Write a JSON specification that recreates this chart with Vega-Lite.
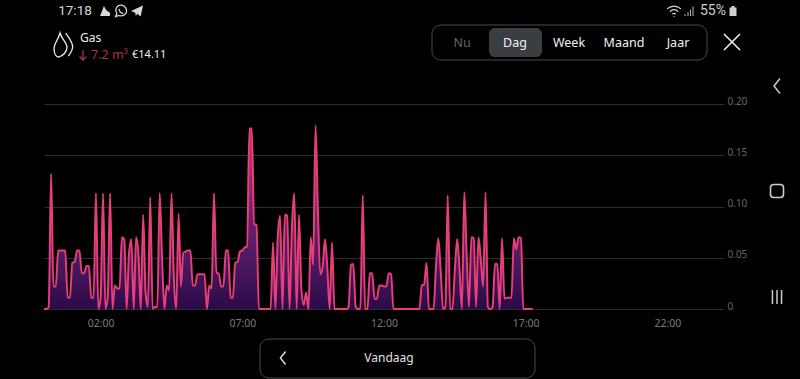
{"$schema":"https://vega.github.io/schema/vega-lite/v6.json","width":680,"height":205,"autosize":{"type":"none"},"padding":{"left":44,"top":104,"right":76,"bottom":70},"background":"#000000","config":{"view":{"stroke":null},"font":"Noto Sans"},
"datasets":{"gas":[{"minute":0,"m3":0},{"minute":5,"m3":0},{"minute":10,"m3":0.002},{"minute":15,"m3":0.132},{"minute":20,"m3":0.022},{"minute":25,"m3":0.022},{"minute":30,"m3":0.057},{"minute":35,"m3":0.057},{"minute":40,"m3":0.057},{"minute":45,"m3":0.057},{"minute":50,"m3":0.011},{"minute":55,"m3":0.011},{"minute":60,"m3":0.045},{"minute":65,"m3":0.046},{"minute":70,"m3":0.057},{"minute":75,"m3":0.057},{"minute":80,"m3":0.035},{"minute":85,"m3":0.035},{"minute":90,"m3":0.042},{"minute":95,"m3":0.042},{"minute":100,"m3":0.011},{"minute":105,"m3":0.011},{"minute":110,"m3":0.113},{"minute":115,"m3":0},{"minute":120,"m3":0.012},{"minute":125,"m3":0.113},{"minute":130,"m3":0},{"minute":135,"m3":0.012},{"minute":140,"m3":0.113},{"minute":145,"m3":0},{"minute":150,"m3":0.023},{"minute":155,"m3":0.02},{"minute":160,"m3":0.02},{"minute":165,"m3":0.07},{"minute":170,"m3":0.068},{"minute":175,"m3":0},{"minute":180,"m3":0.054},{"minute":185,"m3":0.068},{"minute":190,"m3":0},{"minute":195,"m3":0.07},{"minute":200,"m3":0.054},{"minute":205,"m3":0},{"minute":210,"m3":0.092},{"minute":215,"m3":0.017},{"minute":220,"m3":0.002},{"minute":225,"m3":0.109},{"minute":230,"m3":0},{"minute":235,"m3":0.002},{"minute":240,"m3":0.002},{"minute":245,"m3":0.113},{"minute":250,"m3":0.05},{"minute":255,"m3":0},{"minute":260,"m3":0.023},{"minute":265,"m3":0.018},{"minute":270,"m3":0.113},{"minute":275,"m3":0.03},{"minute":280,"m3":0},{"minute":285,"m3":0.093},{"minute":290,"m3":0.022},{"minute":295,"m3":0.055},{"minute":300,"m3":0.056},{"minute":305,"m3":0.057},{"minute":310,"m3":0.057},{"minute":315,"m3":0.023},{"minute":320,"m3":0.023},{"minute":325,"m3":0.034},{"minute":330,"m3":0.034},{"minute":335,"m3":0.034},{"minute":340,"m3":0.034},{"minute":345,"m3":0},{"minute":350,"m3":0.023},{"minute":355,"m3":0.02},{"minute":360,"m3":0.113},{"minute":365,"m3":0.035},{"minute":370,"m3":0.035},{"minute":375,"m3":0.022},{"minute":380,"m3":0.022},{"minute":385,"m3":0.057},{"minute":390,"m3":0.057},{"minute":395,"m3":0.011},{"minute":400,"m3":0.011},{"minute":405,"m3":0.045},{"minute":410,"m3":0.046},{"minute":415,"m3":0.056},{"minute":420,"m3":0.057},{"minute":425,"m3":0.06},{"minute":430,"m3":0.061},{"minute":435,"m3":0.176},{"minute":440,"m3":0.176},{"minute":445,"m3":0.083},{"minute":450,"m3":0.082},{"minute":455,"m3":0},{"minute":460,"m3":0},{"minute":465,"m3":0},{"minute":470,"m3":0},{"minute":475,"m3":0},{"minute":480,"m3":0},{"minute":485,"m3":0.065},{"minute":490,"m3":0},{"minute":495,"m3":0.07},{"minute":500,"m3":0.091},{"minute":505,"m3":0},{"minute":510,"m3":0.092},{"minute":515,"m3":0.091},{"minute":520,"m3":0},{"minute":525,"m3":0.08},{"minute":530,"m3":0.113},{"minute":535,"m3":0},{"minute":540,"m3":0.092},{"minute":545,"m3":0.02},{"minute":550,"m3":0.004},{"minute":555,"m3":0.016},{"minute":560,"m3":0},{"minute":565,"m3":0.07},{"minute":570,"m3":0.043},{"minute":575,"m3":0.179},{"minute":580,"m3":0.097},{"minute":585,"m3":0.034},{"minute":590,"m3":0.041},{"minute":595,"m3":0.068},{"minute":600,"m3":0.04},{"minute":605,"m3":0},{"minute":610,"m3":0.065},{"minute":615,"m3":0},{"minute":620,"m3":0},{"minute":625,"m3":0},{"minute":630,"m3":0},{"minute":635,"m3":0},{"minute":640,"m3":0},{"minute":645,"m3":0.002},{"minute":650,"m3":0.043},{"minute":655,"m3":0.044},{"minute":660,"m3":0.002},{"minute":665,"m3":0},{"minute":670,"m3":0},{"minute":675,"m3":0.111},{"minute":680,"m3":0},{"minute":685,"m3":0},{"minute":690,"m3":0.035},{"minute":695,"m3":0.035},{"minute":700,"m3":0.01},{"minute":705,"m3":0.01},{"minute":710,"m3":0.023},{"minute":715,"m3":0.023},{"minute":720,"m3":0.022},{"minute":725,"m3":0.022},{"minute":730,"m3":0.035},{"minute":735,"m3":0.034},{"minute":740,"m3":0},{"minute":745,"m3":0},{"minute":750,"m3":0},{"minute":755,"m3":0},{"minute":760,"m3":0},{"minute":765,"m3":0},{"minute":770,"m3":0},{"minute":775,"m3":0},{"minute":780,"m3":0},{"minute":785,"m3":0},{"minute":790,"m3":0},{"minute":795,"m3":0},{"minute":800,"m3":0.023},{"minute":805,"m3":0.024},{"minute":810,"m3":0.045},{"minute":815,"m3":0},{"minute":820,"m3":0},{"minute":825,"m3":0},{"minute":830,"m3":0.041},{"minute":835,"m3":0.069},{"minute":840,"m3":0.038},{"minute":845,"m3":0},{"minute":850,"m3":0.002},{"minute":855,"m3":0.111},{"minute":860,"m3":0},{"minute":865,"m3":0},{"minute":870,"m3":0.038},{"minute":875,"m3":0.068},{"minute":880,"m3":0.038},{"minute":885,"m3":0},{"minute":890,"m3":0.114},{"minute":895,"m3":0.054},{"minute":900,"m3":0.002},{"minute":905,"m3":0.07},{"minute":910,"m3":0.069},{"minute":915,"m3":0.002},{"minute":920,"m3":0.07},{"minute":925,"m3":0.048},{"minute":930,"m3":0.022},{"minute":935,"m3":0.114},{"minute":940,"m3":0.002},{"minute":945,"m3":0},{"minute":950,"m3":0.002},{"minute":955,"m3":0.044},{"minute":960,"m3":0.044},{"minute":965,"m3":0},{"minute":970,"m3":0.069},{"minute":975,"m3":0.01},{"minute":980,"m3":0.011},{"minute":985,"m3":0.011},{"minute":990,"m3":0.011},{"minute":995,"m3":0.069},{"minute":1000,"m3":0.058},{"minute":1005,"m3":0.07},{"minute":1010,"m3":0.069},{"minute":1015,"m3":0},{"minute":1020,"m3":0},{"minute":1025,"m3":0},{"minute":1030,"m3":0},{"minute":1035,"m3":0}]},
"layer":[
{"data":{"name":"gas"},"mark":{"type":"area","interpolate":"monotone","color":{"gradient":"linear","x1":0,"y1":0,"x2":0,"y2":1,"stops":[{"offset":0,"color":"#d8356c"},{"offset":0.45,"color":"#74206c"},{"offset":0.72,"color":"#4e1a62"},{"offset":1,"color":"#2c0a48"}]}},
"encoding":{"x":{"field":"minute","type":"quantitative","scale":{"domain":[0,1440],"nice":false,"zero":false},"axis":{"title":null,"grid":false,"domain":false,"ticks":false,"values":[120,420,720,1020,1320],"labelExpr":"(datum.value/60<10?'0':'')+(datum.value/60)+':00'","labelColor":"#7a7a7a","labelFontSize":10.5,"labelPadding":9,"labelFont":"Noto Sans"}},
"y":{"field":"m3","type":"quantitative","scale":{"domain":[0,0.2],"nice":false},"axis":{"title":null,"orient":"right","grid":true,"gridColor":"#2c2c2c","gridWidth":1,"domain":false,"ticks":false,"values":[0,0.05,0.1,0.15,0.2],"labelExpr":"datum.value==0?'0':format(datum.value,'.2f')","labelColor":"#666666","labelFontSize":10,"labelPadding":3,"labelOffset":-3,"labelFont":"Noto Sans"}}}},
{"data":{"name":"gas"},"mark":{"type":"line","interpolate":"monotone","color":"#e63e78","strokeWidth":2},"encoding":{"x":{"field":"minute","type":"quantitative"},"y":{"field":"m3","type":"quantitative"}}},
{"data":{"values":[{"item":"tabs"}]},"mark":{"type":"rect","x":388,"x2":663,"y":-79,"y2":-44,"cornerRadius":9,"fill":null,"stroke":"#4a4a4a","strokeWidth":1}},
{"data":{"values":[{"item":"active tab"}]},"mark":{"type":"rect","x":445,"x2":498,"y":-76,"y2":-47,"cornerRadius":6,"fill":"#3a3d42"}},
{"data":{"values":[{"item":"date bar"}]},"mark":{"type":"rect","x":216,"x2":491,"y":235,"y2":274,"cornerRadius":9,"fill":null,"stroke":"#4a4a4a","strokeWidth":1}},
{"data":{"values":[{"label":"17:18"}]},"mark":{"type":"text","x":31,"y":-93,"align":"center","baseline":"middle","fontSize":13.5,"color":"#d8d8d8","font":"Roboto"},"encoding":{"text":{"field":"label"}}},
{"data":{"values":[{"label":"55%"}]},"mark":{"type":"text","x":669,"y":-93,"align":"center","baseline":"middle","fontSize":14,"color":"#cfcfcf","font":"Roboto"},"encoding":{"text":{"field":"label"}}},
{"data":{"values":[{"label":"Gas"}]},"mark":{"type":"text","x":36,"y":-66,"align":"left","baseline":"middle","fontSize":12,"color":"#eeeeee"},"encoding":{"text":{"field":"label"}}},
{"data":{"values":[{"item":"down arrow"}]},"mark":{"type":"point","x":39,"y":-49,"size":100,"filled":false,"stroke":"#a8324f","strokeWidth":1.3,"opacity":1,"shape":"M0,-1V1M-0.7,0.3L0,1L0.7,0.3"}},
{"data":{"values":[{"label":"7.2 m³"}]},"mark":{"type":"text","x":47,"y":-49,"align":"left","baseline":"middle","fontSize":12.5,"color":"#a8324f"},"encoding":{"text":{"field":"label"}}},
{"data":{"values":[{"label":"€14.11"}]},"mark":{"type":"text","x":88,"y":-49,"align":"left","baseline":"middle","fontSize":11,"color":"#eeeeee"},"encoding":{"text":{"field":"label"}}},
{"data":{"values":[{"label":"Nu"}]},"mark":{"type":"text","x":418,"y":-61,"align":"center","baseline":"middle","fontSize":12.5,"color":"#666666"},"encoding":{"text":{"field":"label"}}},
{"data":{"values":[{"label":"Dag"}]},"mark":{"type":"text","x":471,"y":-61,"align":"center","baseline":"middle","fontSize":12.5,"color":"#f0f0f0"},"encoding":{"text":{"field":"label"}}},
{"data":{"values":[{"label":"Week"}]},"mark":{"type":"text","x":525,"y":-61,"align":"center","baseline":"middle","fontSize":12.5,"color":"#f0f0f0"},"encoding":{"text":{"field":"label"}}},
{"data":{"values":[{"label":"Maand"}]},"mark":{"type":"text","x":580,"y":-61,"align":"center","baseline":"middle","fontSize":12.5,"color":"#f0f0f0"},"encoding":{"text":{"field":"label"}}},
{"data":{"values":[{"label":"Jaar"}]},"mark":{"type":"text","x":634,"y":-61,"align":"center","baseline":"middle","fontSize":12.5,"color":"#f0f0f0"},"encoding":{"text":{"field":"label"}}},
{"data":{"values":[{"label":"Vandaag"}]},"mark":{"type":"text","x":345,"y":254,"align":"center","baseline":"middle","fontSize":12,"color":"#e0e0e0"},"encoding":{"text":{"field":"label"}}},
{"data":{"values":[{"item":"gas icon"}]},"mark":{"type":"point","x":20,"y":-59,"size":576,"filled":false,"stroke":"#eeeeee","strokeWidth":1.3,"opacity":1,"shape":"M-0.33,-1C-0.5,-0.4,-0.9,0,-0.83,0.42C-0.8,0.8,-0.6,1,-0.42,1C-0.1,0.9,0.25,0.6,0.25,0.17C0.25,-0.2,-0.2,-0.5,-0.33,-1ZM0.14,-1C0.4,-0.6,0.75,-0.2,0.72,0.17C0.7,0.5,0.5,0.75,0.36,0.92"}},
{"data":{"values":[{"item":"close"}]},"mark":{"type":"point","x":688,"y":-62,"size":256,"filled":false,"stroke":"#f0f0f0","strokeWidth":1.6,"opacity":1,"shape":"M-1,-1L1,1M-1,1L1,-1"}},
{"data":{"values":[{"item":"side back"}]},"mark":{"type":"point","x":733,"y":-18,"size":225,"filled":false,"stroke":"#cccccc","strokeWidth":1.5,"opacity":1,"shape":"M0.4,-1L-0.4,0L0.4,1"}},
{"data":{"values":[{"item":"date back"}]},"mark":{"type":"point","x":239,"y":254,"size":169,"filled":false,"stroke":"#e0e0e0","strokeWidth":1.4,"opacity":1,"shape":"M0.4,-1L-0.4,0L0.4,1"}},
{"data":{"values":[{"item":"home"}]},"mark":{"type":"point","x":733,"y":87,"size":169,"filled":false,"stroke":"#cccccc","strokeWidth":1.6,"opacity":1,"shape":"M-0.5,-1H0.5Q1,-1,1,-0.5V0.5Q1,1,0.5,1H-0.5Q-1,1,-1,0.5V-0.5Q-1,-1,-0.5,-1Z"}},
{"data":{"values":[{"item":"recents"}]},"mark":{"type":"point","x":733,"y":193,"size":196,"filled":false,"stroke":"#cccccc","strokeWidth":1.5,"opacity":1,"shape":"M-0.65,-1V1M0,-1V1M0.65,-1V1"}},
{"data":{"values":[{"item":"battery"}]},"mark":{"type":"point","x":689,"y":-93,"size":100,"filled":true,"color":"#cfcfcf","opacity":1,"shape":"M-0.7,-0.7H-0.3V-1H0.3V-0.7H0.7V1H-0.7Z"}},
{"data":{"values":[{"item":"signal"}]},"mark":{"type":"point","x":645,"y":-93,"size":100,"filled":false,"stroke":"#bbbbbb","strokeWidth":1,"opacity":1,"shape":"M-0.8,1V0.6M-0.2,1V0.2M0.3,1V-0.3M0.8,1V-0.9"}},
{"data":{"values":[{"item":"wifi"}]},"mark":{"type":"point","x":630,"y":-93,"size":196,"filled":false,"stroke":"#d8d8d8","strokeWidth":1.2,"opacity":1,"shape":"M-1,-0.3Q0,-1.1,1,-0.3M-0.6,0.1Q0,-0.5,0.6,0.1M-0.25,0.45Q0,0.2,0.25,0.45M0,0.75L0,0.85"}},
{"data":{"values":[{"item":"do not disturb"}]},"mark":{"type":"point","x":61,"y":-93,"size":121,"filled":true,"color":"#d8d8d8","opacity":1,"shape":"M-0.9,0.9L-0.2,-0.9L0.2,-0.2L0.9,0.3L0.9,0.9Z"}},
{"data":{"values":[{"item":"whatsapp"}]},"mark":{"type":"point","x":77,"y":-93,"size":144,"filled":false,"stroke":"#d8d8d8","strokeWidth":1.3,"opacity":1,"shape":"M-0.9,0.95L-0.7,0.4Q-1.1,-0.4,-0.5,-0.85Q0,-1.15,0.55,-0.8Q1.1,-0.3,0.85,0.35Q0.4,1,-0.35,0.75ZM-0.35,-0.35Q-0.2,0.4,0.4,0.4"}},
{"data":{"values":[{"item":"telegram"}]},"mark":{"type":"point","x":93,"y":-93,"size":144,"filled":true,"color":"#d8d8d8","opacity":1,"shape":"M-1,0L1,-0.9L0.6,0.9L0.05,0.45L-0.2,0.85L-0.3,0.3Z"}}
]}
